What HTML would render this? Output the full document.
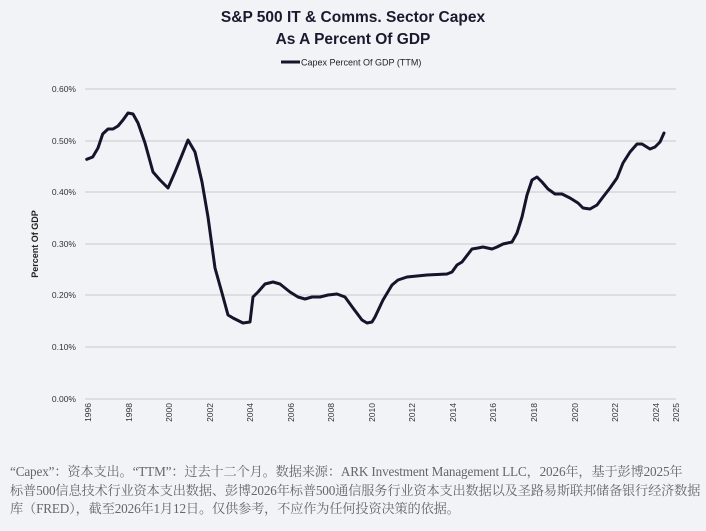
<!DOCTYPE html>
<html><head><meta charset="utf-8"><style>
body{margin:0;background:#f2f3f7;width:706px;height:531px;overflow:hidden;font-family:"Liberation Sans",sans-serif;}
.fn{position:absolute;left:10px;top:463px;width:700px;white-space:nowrap;font-family:"Liberation Serif","Noto Serif CJK SC",serif;font-size:13.2px;line-height:18.5px;color:#666;letter-spacing:-0.15px;}
</style></head><body>
<svg width="706" height="531" style="position:absolute;left:0;top:0" font-family="Liberation Sans, sans-serif">
<text x="353" y="22" text-anchor="middle" font-size="15.5" font-weight="bold" fill="#1a1a2e">S&amp;P 500 IT &amp; Comms. Sector Capex</text>
<text x="353" y="44" text-anchor="middle" font-size="15.5" font-weight="bold" fill="#1a1a2e">As A Percent Of GDP</text>
<line x1="281" y1="62" x2="300" y2="62" stroke="#14142b" stroke-width="3"/>
<text x="301" y="65.5" font-size="9" fill="#222">Capex Percent Of GDP (TTM)</text>
<g stroke="#c8c9cd" stroke-width="1">
<line x1="85" y1="89" x2="676" y2="89"/><line x1="85" y1="141" x2="676" y2="141"/><line x1="85" y1="192" x2="676" y2="192"/><line x1="85" y1="244" x2="676" y2="244"/><line x1="85" y1="295" x2="676" y2="295"/><line x1="85" y1="347" x2="676" y2="347"/><line x1="85" y1="399" x2="676" y2="399"/>
</g>
<g font-size="8.5" fill="#333" text-anchor="end">
<text x="76" y="92">0.60%</text><text x="76" y="144">0.50%</text><text x="76" y="195">0.40%</text><text x="76" y="247">0.30%</text><text x="76" y="298">0.20%</text><text x="76" y="350">0.10%</text><text x="76" y="402">0.00%</text>
</g>
<text transform="translate(38,244) rotate(-90)" text-anchor="middle" font-size="9" font-weight="bold" fill="#222">Percent Of GDP</text>
<g font-size="8.5" fill="#333" text-anchor="end">
<text transform="translate(91,403) rotate(-90)">1996</text>
<text transform="translate(132,403) rotate(-90)">1998</text>
<text transform="translate(172,403) rotate(-90)">2000</text>
<text transform="translate(213,403) rotate(-90)">2002</text>
<text transform="translate(253,403) rotate(-90)">2004</text>
<text transform="translate(294,403) rotate(-90)">2006</text>
<text transform="translate(334,403) rotate(-90)">2008</text>
<text transform="translate(375,403) rotate(-90)">2010</text>
<text transform="translate(415,403) rotate(-90)">2012</text>
<text transform="translate(456,403) rotate(-90)">2014</text>
<text transform="translate(496,403) rotate(-90)">2016</text>
<text transform="translate(537,403) rotate(-90)">2018</text>
<text transform="translate(578,403) rotate(-90)">2020</text>
<text transform="translate(618,403) rotate(-90)">2022</text>
<text transform="translate(659,403) rotate(-90)">2024</text>
<text transform="translate(679,403) rotate(-90)">2025</text>
</g>
<polyline fill="none" stroke="#14142b" stroke-width="3" stroke-linejoin="round" stroke-linecap="round" points="86.7,159.3 92.7,157 98,148 102.7,134 108,129 113,129 118,126 123,120 128,113 133,114 138,123 145,143 153,172 160,180 168,188 175,172 182,155 188,140 195,152 202,182 208,217 215,268 222,293 228,315 233,318 243,323 250,322 253,297 258,292 265,284 273,282 280,284 290,292 298,297 305,299 312,297 320,297 328,295 337,294 345,297 353,308 362,320 367,323 372,322 375,317 383,300 392,285 398,280 407,277 427,275 447,274 452,272 457,265 462,262 472,249 478,248 483,247 492,249 497,247 503,244 512,242 517,233 522,217 527,195 532,180 537,177 542,182 548,189 555,194 562,194 570,198 578,203 583,208 590,209 597,205 603,197 610,188 617,178 623,163 630,152 637,144 642,144 650,149 655,147 660,142 664,133"/>
</svg>
<div class="fn">“Capex”：资本支出。“TTM”：过去十二个月。数据来源：ARK Investment Management LLC，2026年，基于彭博2025年<br>标普500信息技术行业资本支出数据、彭博2026年标普500通信服务行业资本支出数据以及圣路易斯联邦储备银行经济数据<br>库（FRED），截至2026年1月12日。仅供参考，不应作为任何投资决策的依据。</div>
</body></html>
